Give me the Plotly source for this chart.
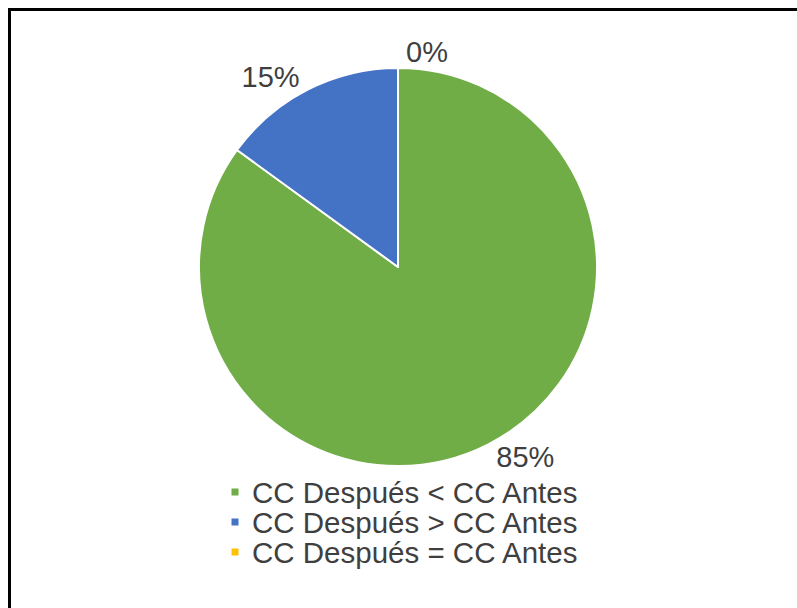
import html
import plotly.graph_objects as go

categories = ["CC Después < CC Antes", "CC Después > CC Antes", "CC Después = CC Antes"]
values = [85, 15, 0]
colors = ["#70AD47", "#4472C4", "#FFC000"]

W, H = 797, 608
cx, cy, r = 398, 267, 199

FONT = "Arial, Liberation Sans, sans-serif"
TXT = "#3F3F3F"

fig = go.Figure(go.Pie(
    labels=categories,
    values=values,
    sort=False,
    direction="clockwise",
    rotation=0,
    marker=dict(colors=colors, line=dict(color="white", width=2)),
    texttemplate="%{percent:.0%}",
    textposition="outside",
    textfont=dict(family=FONT, size=29, color=TXT),
    domain=dict(x=[(cx - r) / W, (cx + r) / W], y=[1 - (cy + r) / H, 1 - (cy - r) / H]),
    automargin=False,
    showlegend=False,
    hoverinfo="label+percent",
))

# legend drawn as rows: small square swatch + label
leg_x_sw, leg_x_txt, leg_y0, leg_dy, sw = 235, 250, 492, 30, 7
shapes = [
    dict(type="line", xref="paper", yref="paper", x0=8 / W, x1=1, y0=1 - 9.5 / H, y1=1 - 9.5 / H,
         line=dict(color="black", width=3)),
    dict(type="line", xref="paper", yref="paper", x0=9.5 / W, x1=9.5 / W, y0=0, y1=1 - 8 / H,
         line=dict(color="black", width=3)),
]
annotations = []
for i, (lab, col) in enumerate(zip(categories, colors)):
    yc = leg_y0 + i * leg_dy
    shapes.append(dict(type="rect", xref="paper", yref="paper",
                       x0=(leg_x_sw - sw / 2) / W, x1=(leg_x_sw + sw / 2) / W,
                       y0=1 - (yc + sw / 2) / H, y1=1 - (yc - sw / 2) / H,
                       fillcolor=col, line=dict(width=0)))
    annotations.append(dict(xref="paper", yref="paper", x=leg_x_txt / W, y=1 - yc / H,
                            xanchor="left", yanchor="middle", showarrow=False,
                            text=html.escape(lab),
                            font=dict(family=FONT, size=29.5, color=TXT)))

fig.update_layout(
    width=W, height=H,
    margin=dict(l=0, r=0, t=0, b=0),
    paper_bgcolor="white",
    shapes=shapes,
    annotations=annotations,
)

fig.write_html(
    "out.html",
    config={"displayModeBar": False},
    post_script="document.body.style.margin='0';document.body.style.overflow='hidden';",
)
